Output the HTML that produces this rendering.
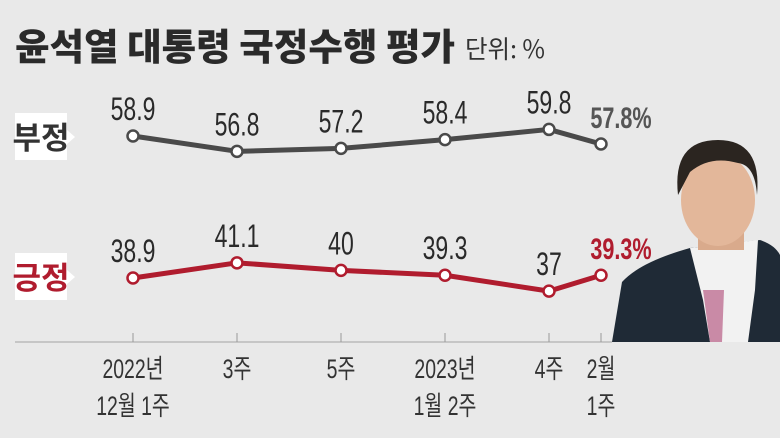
<!DOCTYPE html>
<html><head><meta charset="utf-8">
<style>
body{margin:0;}
#c{width:780px;height:438px;background:#e9e9e9;position:relative;overflow:hidden;font-family:"Liberation Sans","Noto Sans CJK KR",sans-serif;}
</style></head>
<body>
<div id="c">
<svg id="s" width="780" height="438" xmlns="http://www.w3.org/2000/svg">
<text x="15" y="60" font-size="37" font-weight="900" fill="#2a2a2a" font-family="Noto Sans CJK KR, sans-serif" textLength="440" lengthAdjust="spacingAndGlyphs">윤석열 대통령 국정수행 평가</text>
<text x="465" y="58" font-size="25" fill="#333" font-family="Noto Sans CJK KR, sans-serif" textLength="80" lengthAdjust="spacingAndGlyphs">단위: %</text>
<g>
<path d="M612 342 L622 282 Q640 262 690 248 L760 240 Q775 245 780 255 L780 342 Z" fill="#1f2a36"/>
<path d="M690 248 L703 300 L710 342 L748 342 L755 290 L758 240 Z" fill="#f2f2f2"/>
<path d="M703 290 L710 342 L722 342 L724 290 Z" fill="#c98aa6"/>
<rect x="698" y="215" width="46" height="35" fill="#d9aa8c"/>
<ellipse cx="718" cy="200" rx="37" ry="46" fill="#e3b79a"/>
<path d="M678 195 Q672 140 718 140 Q762 140 757 195 Q755 165 738 163 Q710 155 690 172 Z" fill="#2b2520"/>
</g>
<line x1="15" y1="342" x2="612" y2="342" stroke="#bbb" stroke-width="1.5"/>
<g><rect x="15" y="113" width="52" height="47" fill="#fff"/><polygon points="67,130 75,137 67,144" fill="#fff"/><text x="41" y="149" font-size="31" font-weight="bold" fill="#333" text-anchor="middle" font-family="Noto Sans CJK KR, sans-serif">부정</text></g>
<g><rect x="15" y="253" width="52" height="47" fill="#fff"/><polygon points="67,270 75,277 67,284" fill="#fff"/><text x="41" y="289" font-size="31" font-weight="bold" fill="#b01c2e" text-anchor="middle" font-family="Noto Sans CJK KR, sans-serif">긍정</text></g>
</svg>
</div>
<script>
const weeks=[0,2,4,6,8,9];
const labels1=["2022년","3주","5주","2023년","4주","2월"];
const labels2=["12월 1주","","","1월 2주","","1주"];
const negVals=[58.9,56.8,57.2,58.4,59.8,57.8];
const posVals=[38.9,41.1,40,39.3,37,39.3];
const negText=["58.9","56.8","57.2","58.4","59.8","57.8%"];
const posText=["38.9","41.1","40","39.3","37","39.3%"];
const svg=document.getElementById('s');
const NS="http://www.w3.org/2000/svg";
function xs(w){return 133+52*w;}
function yNeg(v){return 136-(v-58.9)*7.3;}
function yPos(v){return 278-(v-38.9)*6.9;}
function mk(t,a){const e=document.createElementNS(NS,t);for(const k in a)e.setAttribute(k,a[k]);svg.appendChild(e);return e;}
function sx(x,s){return `translate(${x},0) scale(${s},1) translate(${-x},0)`;}
weeks.forEach((w,i)=>{
  const t=mk('line',{x1:xs(w),y1:333,x2:xs(w),y2:342,stroke:'#999','stroke-width':1});
  
  
  [labels1[i],labels2[i]].forEach((s,j)=>{
    if(!s)return;
    const tx=mk('text',{x:xs(w),y:378+j*37,'font-size':27,fill:'#333','text-anchor':'middle',transform:sx(xs(w),0.72)});
    tx.textContent=s;
    
    
  });
});
function series(vals,txt,yf,col,name,lastCol){
  const d=vals.map((v,i)=>(i?'L':'M')+xs(weeks[i])+' '+yf(v)).join(' ');
  const p=mk('path',{d:d,fill:'none',stroke:col,'stroke-width':5,'stroke-linejoin':'round'});
  
  
  vals.forEach((v,i)=>{
    const x=xs(weeks[i]),y=yf(v);
    const c=mk('circle',{cx:x,cy:y,r:5.5,fill:'#fff',stroke:col,'stroke-width':2.5});
    
    
    const last=i===vals.length-1;
    const lx=last?x+20:x;
    const tx=mk('text',{x:lx,y:y-16,'font-size':last?30:32,'font-weight':last?'bold':'normal',fill:last?lastCol:'#2a2a2a','text-anchor':'middle',transform:sx(lx,0.72)});
    tx.textContent=txt[i];
    
    
  });
}
series(negVals,negText,yNeg,'#4a4a4a','negative','#555');
series(posVals,posText,yPos,'#b01c2e','positive','#b01c2e');
</script>
</body></html>
